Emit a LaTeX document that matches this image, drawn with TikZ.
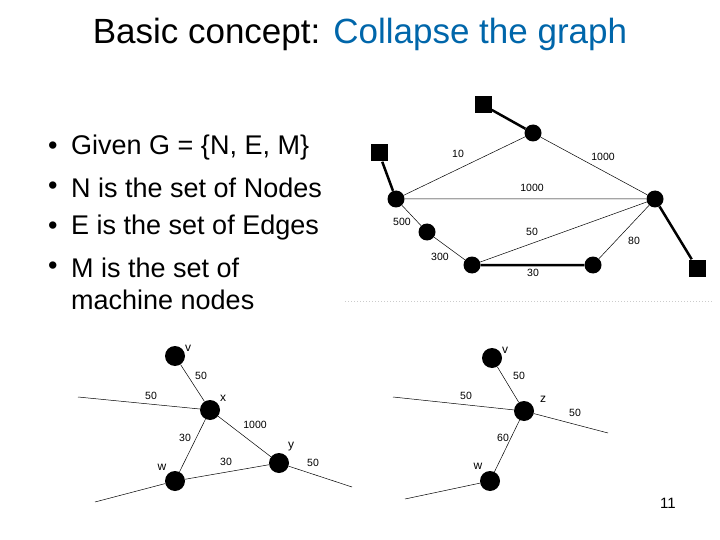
\documentclass[tikz,border=0pt]{standalone}
\usepackage{fontspec}
\setmainfont{Liberation Sans}
\definecolor{tblue}{RGB}{0,102,170}
\begin{document}
\begin{tikzpicture}[x=1pt,y=-1pt,
  dot/.style={circle,fill=black,inner sep=0pt,minimum size=17pt},
  bdot/.style={circle,fill=black,inner sep=0pt,minimum size=20pt},
  sq/.style={rectangle,fill=black,inner sep=0pt,minimum size=17pt},
  wl/.style={font=\fontsize{10.5}{12}\selectfont,inner sep=1pt},
  nl/.style={font=\fontsize{12}{13}\selectfont,inner sep=1pt},
  edge/.style={line width=0.5pt},
  thick edge/.style={line width=2.5pt},
  bul/.style={anchor=west,font=\fontsize{27}{30}\selectfont,inner sep=0pt}]
\useasboundingbox (0,0) rectangle (720,540);
\node (title) at (360,34) {\fontsize{35}{40}\selectfont Basic concept: \textcolor{tblue}{Collapse the graph}};
\node[bul] (b1) at (48,148) {•};\node[bul] (t1) at (71,148) {Given G = \{N, E, M\}};
\node[bul] (b2) at (48,188) {•};\node[bul] (t2) at (71,188) {N is the set of Nodes};
\node[bul] (b3) at (48,228) {•};\node[bul] (t3) at (71,228) {E is the set of Edges};
\node[bul] (b4) at (48,268) {•};\node[bul] (t4) at (71,268) {M is the set of};
\node[bul] (t5) at (71,300) {machine nodes};
% top graph
\node[sq] (A) at (483,105) {};
\node[sq] (B) at (379,153) {};
\node[sq] (C) at (697,268) {};
\node[dot] (T) at (533,133) {};
\node[dot] (L) at (396,199) {};
\node[dot] (R) at (655,199) {};
\node[dot] (D1) at (427,232) {};
\node[dot] (D2) at (472,265) {};
\node[dot] (D3) at (593,265) {};
\draw[thick edge] (A)--(T) (B)--(L) (R)--(C) (D2)--(D3);
\draw[edge] (L)--(T) (T)--(R) (L)--(R) (L)--(D1) (D1)--(D2) (D2)--(R) (D3)--(R);
\node[wl] (l10) at (458,154) {10};
\node[wl] (l1000a) at (603,157) {1000};
\node[wl] (l1000b) at (532,188) {1000};
\node[wl] (l500) at (402,222) {500};
\node[wl] (l50) at (532,232) {50};
\node[wl] (l80) at (634,241) {80};
\node[wl] (l300) at (440,257) {300};
\node[wl] (l30) at (533,273) {30};
\coordinate (s1) at (345,301); \coordinate (s2) at (712,301);
\draw[gray!40,dotted,line width=1pt] (s1)--(s2);
% bottom left
\node[bdot] (v) at (175,356) {};
\node[bdot] (x) at (210,410) {};
\node[bdot] (y) at (279,463) {};
\node[bdot] (w) at (175,481) {};
\coordinate (e1) at (78,397); \coordinate (e2) at (95,502); \coordinate (e3) at (352,487);
\draw[edge] (v)--(x) (x)--(y) (x)--(w) (w)--(y) (e1)--(x) (w)--(e2) (y)--(e3);
\node[nl] (nv) at (188,348) {v};
\node[nl] (nx) at (223,398) {x};
\node[nl] (ny) at (291,447) {y};
\node[nl] (nw) at (162,467) {w};
\node[wl] (a1) at (201,376) {50};
\node[wl] (a2) at (151,396) {50};
\node[wl] (a3) at (313,463) {50};
\node[wl] (a4) at (255,425) {1000};
\node[wl] (a5) at (185,438) {30};
\node[wl] (a6) at (226,462) {30};
% bottom right
\node[bdot] (v2) at (492,358) {};
\node[bdot] (z) at (524,411) {};
\node[bdot] (w2) at (490,481) {};
\coordinate (f1) at (393,397); \coordinate (f2) at (608,433); \coordinate (f3) at (405,499);
\draw[edge] (v2)--(z) (z)--(w2) (f1)--(z) (z)--(f2) (w2)--(f3);
\node[nl] (nv2) at (505,350) {v};
\node[nl] (nz) at (543,399) {z};
\node[nl] (nw2) at (478,466) {w};
\node[wl] (c1) at (519,376) {50};
\node[wl] (c2) at (466,396) {50};
\node[wl] (c3) at (575,413) {50};
\node[wl] (c4) at (503,438) {60};
\node[font=\fontsize{15}{17}\selectfont] (pg) at (668,503) {11};
\end{tikzpicture}
\end{document}
